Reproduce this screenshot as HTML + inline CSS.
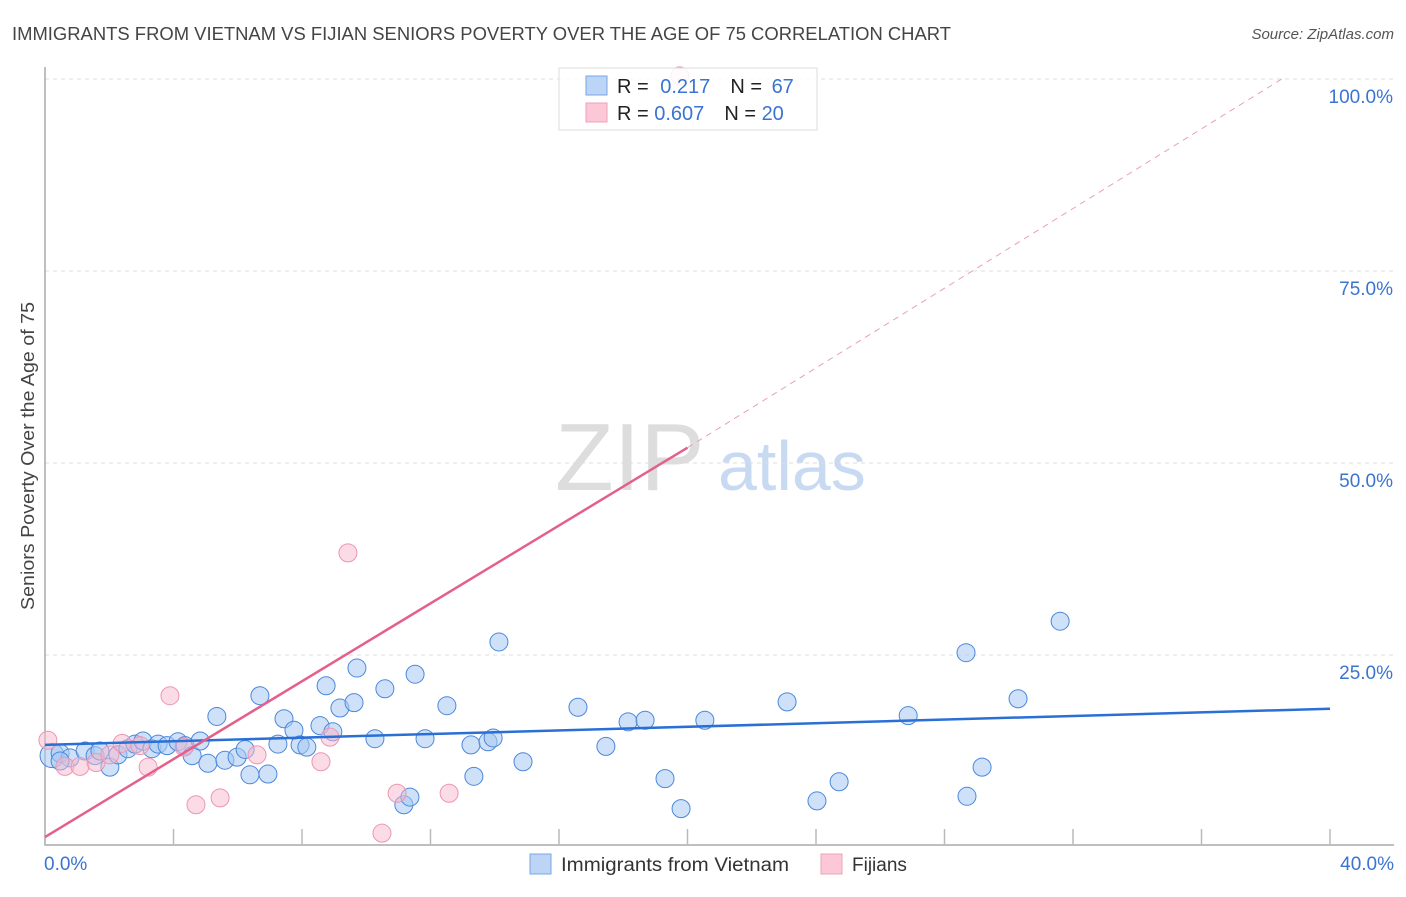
<!DOCTYPE html>
<html><head><meta charset="utf-8"><style>
body{margin:0;background:#fff;font-family:"Liberation Sans",sans-serif;}
svg text{font-family:"Liberation Sans",sans-serif;}
</style></head><body>
<svg id="c" width="1406" height="892" xmlns="http://www.w3.org/2000/svg">
<text x="12" y="40" font-size="18" fill="#444" textLength="939" lengthAdjust="spacingAndGlyphs">IMMIGRANTS FROM VIETNAM VS FIJIAN SENIORS POVERTY OVER THE AGE OF 75 CORRELATION CHART</text>
<text x="1394" y="39" font-size="15" fill="#555" font-style="italic" text-anchor="end">Source: ZipAtlas.com</text>
<text x="0" y="0" transform="translate(34,456) rotate(-90)" font-size="18" fill="#444" text-anchor="middle" textLength="308" lengthAdjust="spacingAndGlyphs">Seniors Poverty Over the Age of 75</text>
<text x="555" y="490" font-size="96" fill="#ddd" font-family="Liberation Serif">ZIP</text>
<text x="718" y="490" font-size="70" fill="#c8daf2">atlas</text>
<g id="grid"></g><g id="marks"></g>
<g>
<rect x="559" y="68" width="258" height="62" fill="#fff" fill-opacity="0.85" stroke="#ddd"/>
<rect x="586" y="76" width="21" height="19" fill="#bcd4f6" stroke="#7aa6e6"/>
<rect x="586" y="103" width="21" height="19" fill="#fcc8d8" stroke="#eea0b8"/>
<text x="617" y="93" font-size="20" fill="#222">R = <tspan fill="#3a74d0" dx="6">0.217</tspan><tspan fill="#222" dx="20">N = </tspan><tspan fill="#3a74d0" dx="4">67</tspan></text>
<text x="617" y="120" font-size="20" fill="#222">R = <tspan fill="#3a74d0">0.607</tspan><tspan fill="#222" dx="20">N = </tspan><tspan fill="#3a74d0">20</tspan></text>
</g>
<g>
<rect x="530" y="854" width="21" height="20" fill="#bcd4f6" stroke="#7aa6e6"/>
<text x="561" y="871" font-size="19" fill="#333" textLength="228" lengthAdjust="spacingAndGlyphs">Immigrants from Vietnam</text>
<rect x="821" y="854" width="21" height="20" fill="#fcc8d8" stroke="#eea0b8"/>
<text x="852" y="871" font-size="19" fill="#333">Fijians</text>
</g>
</svg>
<script>
const yTicks=[25,50,75,100];
const yTickLabels=["25.0%","50.0%","75.0%","100.0%"];
const xEdgeLabels=["0.0%","40.0%"];
const vietX=[0.22,0.47,0.78,1.25,1.56,2.02,1.71,2.27,2.58,2.80,3.05,3.33,3.52,3.80,4.14,4.36,4.58,4.83,5.07,5.35,5.60,5.98,6.23,6.38,6.69,6.94,7.25,7.44,7.75,7.94,8.15,8.56,8.75,8.96,9.18,9.62,9.71,10.27,10.58,11.17,11.36,11.52,11.83,12.51,13.26,13.35,13.79,13.95,14.13,14.88,16.59,17.46,18.15,18.68,19.30,19.80,20.54,23.10,24.03,24.72,26.87,28.67,28.70,29.17,30.29,31.60,0.47];
const vietY=[11.9,12.2,11.6,12.5,11.9,10.4,12.5,12.0,12.8,13.4,13.8,12.8,13.4,13.2,13.7,13.2,11.9,13.8,10.9,17.0,11.3,11.7,12.7,9.4,19.7,9.5,13.4,16.7,15.2,13.3,13.0,15.8,21.0,15.0,18.1,18.8,23.3,14.1,20.6,5.5,6.5,22.5,14.1,18.4,13.3,9.2,13.7,14.2,26.7,11.1,18.2,13.1,16.3,16.5,8.9,5.0,16.5,18.9,6.0,8.5,17.1,25.3,6.6,10.4,19.3,29.4,11.2];
const fijX=[0.09,0.62,1.09,1.59,2.02,2.40,2.96,3.21,3.89,4.33,4.70,5.45,6.60,8.59,8.87,9.43,10.49,10.96,12.58,19.76];
const fijY=[13.9,10.5,10.5,11.0,12.0,13.5,13.2,10.4,19.7,13.0,5.5,6.4,12.0,11.1,14.3,38.3,1.8,7.0,7.0,100.4];
const vietTrend=[13.3,18.0], fijTrend=[1.3,52.0,100.0], fijTrendX=[0,20,38.5];
const X0=45,X1=1330,Y0=847,YS=7.68;
const sx=v=>X0+(X1-X0)*v/40, sy=v=>Y0-v*YS;
const NS="http://www.w3.org/2000/svg";
function mk(t,a,p){const e=document.createElementNS(NS,t);for(const k in a)e.setAttribute(k,a[k]);p.appendChild(e);return e;}
const g=document.getElementById('grid'), m=document.getElementById('marks');
yTicks.forEach((t,i)=>{
 const l=mk('line',{x1:X0,x2:1394,y1:sy(t),y2:sy(t),stroke:'#ddd','stroke-dasharray':'4,4'},g);
 
 
 const tx=mk('text',{x:1393,y:sy(t)+24,'font-size':19,fill:'#3a74d0','text-anchor':'end'},g);
 tx.textContent=yTickLabels[i];
 
 
});
const ax=mk('path',{d:`M${X0} 67V845H${X1+64}`,stroke:'#aaa',fill:'none','stroke-width':1.5},g);


for(let i=1;i<=10;i++){
 const t=mk('line',{x1:sx(i*4),x2:sx(i*4),y1:829,y2:845,stroke:'#bbb','stroke-width':1.5},g);
 
 
}
[[0,'start',44],[40,'end',1394]].forEach((d,i)=>{
 const tx=mk('text',{x:d[2],y:870,'font-size':19,fill:'#3a74d0','text-anchor':d[1]},g);
 tx.textContent=xEdgeLabels[i];
 
 
});
vietX.forEach((x,i)=>{
 const c=mk('circle',{cx:sx(x),cy:sy(vietY[i]),r:i==0?12:9,fill:'#a8c8f2','fill-opacity':0.55,stroke:'#4a88dc','stroke-width':1},m);
 
 
});
fijX.forEach((x,i)=>{
 const c=mk('circle',{cx:sx(x),cy:sy(fijY[i]),r:9,fill:'#f8b8cc','fill-opacity':0.5,stroke:'#ee96b2','stroke-width':1},m);
 
 
});
const vl=mk('line',{x1:sx(0),y1:sy(vietTrend[0]),x2:sx(40),y2:sy(vietTrend[1]),stroke:'#2a6fd6','stroke-width':2.5},m);


const fl=mk('line',{x1:sx(fijTrendX[0]),y1:sy(fijTrend[0]),x2:sx(fijTrendX[1]),y2:sy(fijTrend[1]),stroke:'#e4608a','stroke-width':2.5},m);


const fd=mk('line',{x1:sx(fijTrendX[1]),y1:sy(fijTrend[1]),x2:sx(fijTrendX[2]),y2:sy(fijTrend[2]),stroke:'#e8a0b8','stroke-width':1,'stroke-dasharray':'6,5'},m);


</script>
</body></html>
